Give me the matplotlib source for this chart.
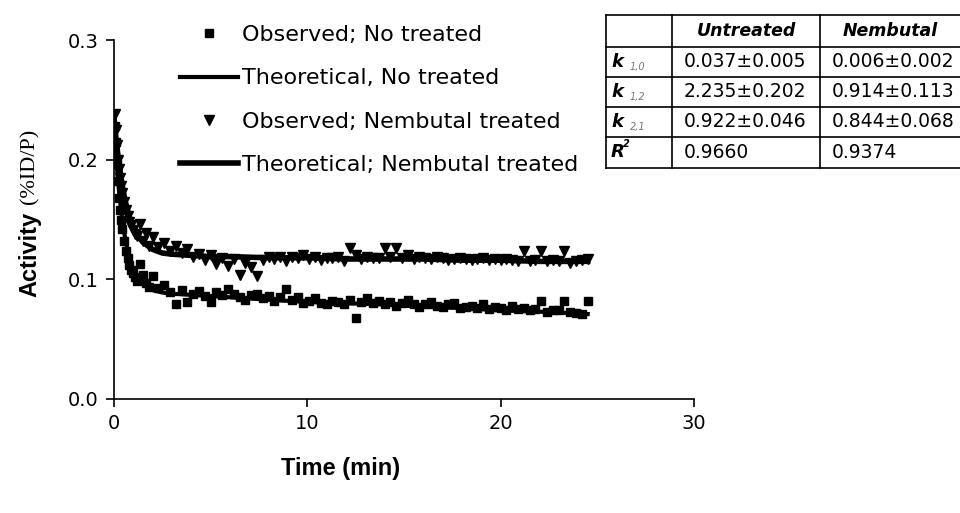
import matplotlib.pyplot as plt

W, H = 960, 513

# sampling times of the observed activity (min)
t_obs = [0.05, 0.1, 0.15, 0.2, 0.25, 0.3, 0.35, 0.4, 0.5, 0.6,
         0.7, 0.8, 0.9, 1.0, 1.1, 1.2, 1.35, 1.5, 1.65, 1.8,
         2.0, 2.3, 2.6, 2.9, 3.2, 3.5, 3.8, 4.1, 4.4, 4.7,
         5.0, 5.3, 5.6, 5.9, 6.2, 6.5, 6.8, 7.1, 7.4, 7.7,
         8.0, 8.3, 8.6, 8.9, 9.2, 9.5, 9.8, 10.1, 10.4, 10.7,
         11.0, 11.3, 11.6, 11.9, 12.2, 12.5, 12.8, 13.1, 13.4, 13.7,
         14.0, 14.3, 14.6, 14.9, 15.2, 15.5, 15.8, 16.1, 16.4, 16.7,
         17.0, 17.3, 17.6, 17.9, 18.2, 18.5, 18.8, 19.1, 19.4, 19.7,
         20.0, 20.3, 20.6, 20.9, 21.2, 21.5, 21.8, 22.1, 22.4, 22.7,
         23.0, 23.3, 23.6, 23.9, 24.2, 24.5]

act_untreated = [0.228, 0.215, 0.196, 0.182, 0.168, 0.158, 0.150, 0.142, 0.132, 0.124,
                 0.118, 0.112, 0.108, 0.105, 0.102, 0.099, 0.113, 0.104, 0.097, 0.094,
                 0.103, 0.093, 0.095, 0.089, 0.079, 0.091, 0.081, 0.088, 0.090, 0.086,
                 0.081, 0.089, 0.087, 0.092, 0.088, 0.085, 0.083, 0.087, 0.088, 0.084,
                 0.086, 0.082, 0.085, 0.092, 0.083, 0.085, 0.080, 0.082, 0.084, 0.080,
                 0.079, 0.082, 0.081, 0.079, 0.083, 0.068, 0.081, 0.084, 0.080, 0.082,
                 0.079, 0.081, 0.078, 0.080, 0.083, 0.079, 0.077, 0.079, 0.081, 0.078,
                 0.077, 0.079, 0.080, 0.076, 0.077, 0.078, 0.076, 0.079, 0.075, 0.077,
                 0.076, 0.074, 0.078, 0.075, 0.076, 0.074, 0.075, 0.082, 0.073, 0.074,
                 0.074, 0.082, 0.073, 0.072, 0.071, 0.082]

act_nembutal = [0.238, 0.225, 0.212, 0.200, 0.192, 0.185, 0.178, 0.172, 0.165, 0.158,
                0.153, 0.148, 0.145, 0.141, 0.138, 0.136, 0.146, 0.132, 0.139, 0.128,
                0.135, 0.127, 0.130, 0.124, 0.128, 0.122, 0.125, 0.119, 0.121, 0.116,
                0.120, 0.113, 0.118, 0.111, 0.117, 0.104, 0.114, 0.110, 0.103, 0.116,
                0.119, 0.117, 0.119, 0.115, 0.119, 0.118, 0.120, 0.117, 0.119, 0.116,
                0.118, 0.118, 0.119, 0.115, 0.126, 0.120, 0.117, 0.119, 0.118, 0.118,
                0.126, 0.119, 0.126, 0.118, 0.120, 0.117, 0.119, 0.118, 0.117, 0.119,
                0.118, 0.116, 0.117, 0.118, 0.117, 0.116, 0.117, 0.118, 0.116, 0.117,
                0.116, 0.117, 0.116, 0.115, 0.124, 0.115, 0.116, 0.124, 0.115, 0.116,
                0.115, 0.124, 0.114, 0.115, 0.116, 0.117]

# fitted two-compartment curves
t_fit = [0, 0.1, 0.2, 0.3, 0.4, 0.5, 0.6, 0.8, 1.0, 1.2, 1.5, 2.0, 2.5,
         3.0, 4.0, 5.0, 6.0, 8.0, 10.0, 12.0, 14.0, 16.0, 18.0, 20.0, 22.0, 24.5]
fit_untreated = [0.230, 0.205, 0.184, 0.167, 0.153, 0.142, 0.132, 0.118, 0.108, 0.102,
                 0.096, 0.091, 0.089, 0.088, 0.087, 0.086, 0.085, 0.083, 0.081, 0.080,
                 0.079, 0.077, 0.076, 0.074, 0.073, 0.071]
fit_nembutal = [0.235, 0.218, 0.204, 0.192, 0.181, 0.172, 0.164, 0.152, 0.143, 0.137,
                0.131, 0.125, 0.122, 0.121, 0.120, 0.119, 0.119, 0.118, 0.118, 0.117,
                0.117, 0.117, 0.116, 0.116, 0.115, 0.115]

x_ticks = [0, 10, 20, 30]
y_ticks = [0.0, 0.1, 0.2, 0.3]

col_labels = ["Untreated", "Nembutal"]
row_symbols = ["k", "k", "k", "R"]
row_scripts = ["1,0", "1,2", "2,1", "2"]
cell_text = [["0.037\u00b10.005", "0.006\u00b10.002"],
             ["2.235\u00b10.202", "0.914\u00b10.113"],
             ["0.922\u00b10.046", "0.844\u00b10.068"],
             ["0.9660", "0.9374"]]


def fx(px):
    return px / W


def fy(py):
    return 1 - py / H


plt.rcParams['font.family'] = ['DejaVu Sans']

fig = plt.figure(figsize=(W / 100, H / 100), dpi=100)
ax = fig.add_axes([fx(114), fy(399), fx(694) - fx(114), fy(40) - fy(399)])

ax.plot(t_obs, act_untreated, 's', color='black', ms=5.5, label='Observed; No treated')
ax.plot(t_fit, fit_untreated, '-', color='black', lw=3, label='Theoretical, No treated')
ax.plot(t_obs, act_nembutal, 'v', color='black', ms=7, label='Observed; Nembutal treated')
ax.plot(t_fit, fit_nembutal, '-', color='black', lw=4, label='Theoretical; Nembutal treated')

ax.set_xlim(0, 30)
ax.set_ylim(0, 0.3)
ax.set_xticks(x_ticks)
ax.set_yticks(y_ticks)
ax.set_yticklabels(['%.1f' % v for v in y_ticks])
for s in ['top', 'right']:
    ax.spines[s].set_visible(False)
for s in ['left', 'bottom']:
    ax.spines[s].set_linewidth(1.2)
ax.tick_params(direction='out', length=6, width=1.2, labelsize=14, pad=5)

ax.set_xlabel('Time (min)', fontsize=17, fontweight='bold', family='Liberation Sans',
              fontstretch='normal')
ax.xaxis.set_label_coords((341 - 114) / 580, -(468 - 399) / 359, transform=ax.transAxes)
ax.xaxis.label.set_va('center')

# y label: bold sans word + serif unit
fig.text(fx(30), fy(212), 'Activity', rotation=90, rotation_mode='anchor',
         ha='right', va='center', fontsize=17, fontweight='bold',
         family='Liberation Sans', fontstretch='normal')
fig.text(fx(30), fy(204), '(%ID/P)', rotation=90, rotation_mode='anchor',
         ha='left', va='center', fontsize=16, family='Liberation Serif')

fig.legend(loc='upper left', bbox_to_anchor=(fx(180), fy(25)), frameon=False,
           fontsize=16, handlelength=2.6, handletextpad=0.2, labelspacing=1.05,
           borderpad=0, borderaxespad=0, numpoints=1)

# parameter table
x_edges = [606, 672, 820, 960]
y_edges = [15, 47, 77, 107, 137, 168]
tab = fig.add_axes([fx(606), fy(168), fx(960) - fx(606), fy(15) - fy(168)])
tab.set_xlim(606, 960)
tab.set_ylim(168, 15)
tab.axis('off')
for y in y_edges:
    tab.plot([606, 960], [y, y], color='black', lw=1.2, clip_on=False)
for x in x_edges[:-1]:
    tab.plot([x, x], [15, 168], color='black', lw=1.2, clip_on=False)

for j, lab in enumerate(col_labels):
    xc = (x_edges[j + 1] + x_edges[j + 2]) / 2
    tab.text(xc, (y_edges[0] + y_edges[1]) / 2, lab, ha='center', va='center',
             fontsize=12.5, fontweight='bold', style='italic')

for i in range(4):
    yc = (y_edges[i + 1] + y_edges[i + 2]) / 2
    tab.text(x_edges[0] + 5, yc, row_symbols[i], ha='left', va='center',
             fontsize=13, fontweight='bold', style='italic')
    if row_symbols[i] == 'k':
        tab.text(x_edges[0] + 24, yc + 5, row_scripts[i], ha='left', va='center',
                 fontsize=7, style='italic', color='#777777')
    else:
        tab.text(x_edges[0] + 17, yc - 8, row_scripts[i], ha='left', va='center',
                 fontsize=7, fontweight='bold', style='italic')
    for j in range(2):
        tab.text(x_edges[j + 1] + 12, yc, cell_text[i][j], ha='left', va='center',
                 fontsize=13.5)

fig.savefig('out.png', dpi=100)
